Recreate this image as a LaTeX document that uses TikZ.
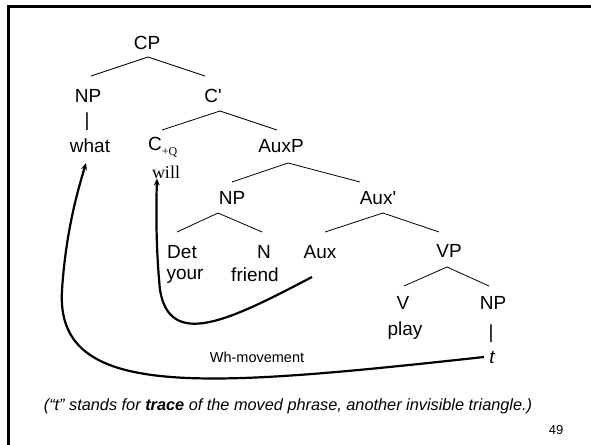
\documentclass[tikz,border=0pt]{standalone}
\usepackage{fontspec}
\setmainfont{Liberation Sans}
\newfontfamily\timesfont{Liberation Serif}
\usetikzlibrary{arrows.meta}

\tikzset{
  lbl/.style={inner sep=0pt, font=\fontsize{19}{22}\selectfont},
  branch/.style={line width=0.8pt},
  move/.style={line width=2.2pt, -{Stealth[length=7pt,width=6pt]}},
}

\begin{document}
\begin{tikzpicture}[x=1pt,y=-1pt]
\useasboundingbox (0,0) rectangle (591,444);
% slide frame
\draw[black, line width=2.4pt, line cap=rect] (8.5,444) -- (8.5,6.5) -- (591,6.5);

% tree nodes
\node[lbl] (cp) at (147,43) {CP};
\node[lbl] (np1) at (88,96) {NP};
\node[lbl] (cbar) at (213,96) {C\textquotesingle};
\node[lbl] (bar1) at (87,122) {|};
\node[lbl] (what) at (90,146) {what};
\node[lbl, anchor=west] (cq) at (148,147) {C\raisebox{-5pt}{\timesfont\fontsize{12}{12}\selectfont +Q}};
\node[lbl, font=\timesfont\fontsize{18}{20}\selectfont] (will) at (166,172) {will};
\node[lbl] (auxp) at (281,146) {AuxP};
\node[lbl] (np2) at (232,198) {NP};
\node[lbl] (auxbar) at (378,198) {Aux\textquotesingle};
\node[lbl] (det) at (182,252) {Det};
\node[lbl] (n) at (264,252) {N};
\node[lbl] (aux) at (320,252) {Aux};
\node[lbl] (vp) at (449,251) {VP};
\node[lbl] (your) at (185,276) {your};
\node[lbl] (friend) at (255,275) {friend};
\node[lbl] (v) at (403,303) {V};
\node[lbl] (np3) at (493,303) {NP};
\node[lbl] (play) at (405,331) {play};
\node[lbl] (bar2) at (491,334) {|};
\node[lbl, font=\itshape\fontsize{19}{22}\selectfont] (t) at (492,357) {t};

% branches
\draw[branch] ([shift={(3,-20)}]np1.center) -- ([shift={(1,14)}]cp.center) -- ([shift={(-8,-20)}]cbar.center);
\draw[branch] ([shift={(14,-17)}]cq.west) -- ([shift={(7,15)}]cbar.center) -- ([shift={(-4,-16)}]auxp.center);
\draw[branch] ([shift={(0,-16)}]np2.center) -- ([shift={(7,17)}]auxp.center) -- ([shift={(-18,-16)}]auxbar.center);
\draw[branch] ([shift={(-5,-20)}]det.center) -- ([shift={(-14,15)}]np2.center) -- ([shift={(-2,-20)}]n.center);
\draw[branch] ([shift={(5,-20)}]aux.center) -- ([shift={(5,15)}]auxbar.center) -- ([shift={(-10,-19)}]vp.center);
\draw[branch] ([shift={(1,-17)}]v.center) -- ([shift={(-2,16)}]vp.center) -- ([shift={(-4,-17)}]np3.center);

% movement arrows
\draw[move] ([shift={(-8,25)}]aux.center) .. controls (230,320) and (170,350) .. (160,290)
  .. controls (156,250) and (156,210) .. ([xshift=-9pt]will.south);
\draw[move] ([xshift=-8pt]t.center) .. controls (200,388) and (55,400) .. (62,290)
  .. controls (66,230) and (78,190) .. ([shift={(-4,17)}]what.center);
\node[font=\fontsize{14.5}{17}\selectfont] (wh) at (257,357) {Wh-movement};

% caption
\node[font=\itshape\fontsize{16.3}{19}\selectfont] (note) at (288,406) {(“t” stands for \textbf{trace} of the moved phrase, another invisible triangle.)};
\node[font=\fontsize{13}{15}\selectfont] (pg) at (556,430) {49};
\end{tikzpicture}
\end{document}
